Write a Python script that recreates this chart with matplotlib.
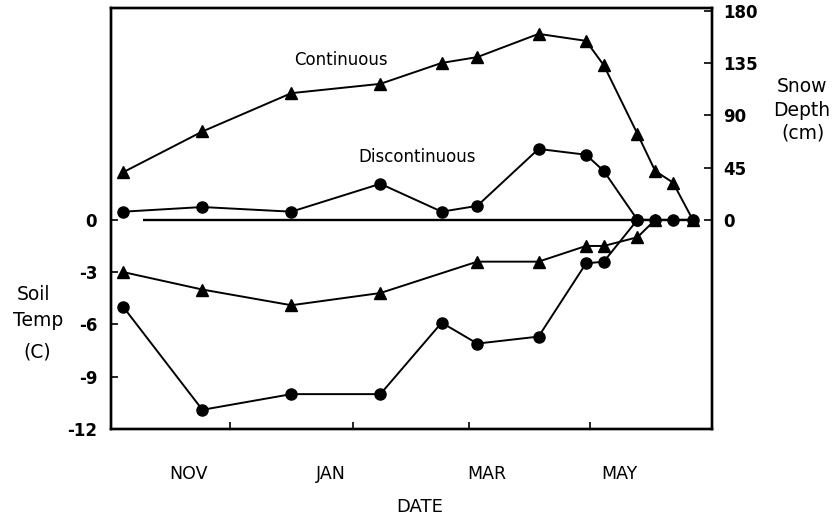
# Soil temperature and snow depth through the winter, continuous vs discontinuous snow
import matplotlib
matplotlib.use('Agg')
import matplotlib.pyplot as plt

plt.rcParams['font.family'] = ['DejaVu Sans']

# x values are days since 1 Oct
snow_days = [7, 47, 92, 137, 168, 186, 217, 241, 250, 267, 276, 285, 295]
snow_continuous = [41, 76, 109, 117, 135, 140, 160, 154, 133, 74, 42, 32, 0]
snow_discontinuous = [7, 11, 7, 31, 7, 12, 61, 56, 42, 0, 0, 0, 0]

temp_days_cont = [7, 47, 92, 137, 186, 217, 241, 250, 267, 276]
temp_continuous = [-3.0, -4.0, -4.9, -4.2, -2.4, -2.4, -1.5, -1.5, -1.0, 0]
temp_days_disc = [7, 47, 92, 137, 168, 186, 217, 241, 250, 267]
temp_discontinuous = [-5.0, -10.9, -10.0, -10.0, -5.9, -7.1, -6.7, -2.5, -2.4, 0]

month_ticks = [61, 123, 182, 243]          # 1 Dec, 1 Feb, 1 Apr, 1 Jun
month_label_pos = [40, 112, 191, 258]
month_labels = ['NOV', 'JAN', 'MAR', 'MAY']
temp_ticks = [0, -3, -6, -9, -12]
snow_ticks = [0, 45, 90, 135, 180]

fig = plt.figure(figsize=(8.38, 5.21), dpi=100)
ax = fig.add_axes([0.1325, 0.1766, 0.7171, 0.808])
ax2 = ax.twinx()

line_kw = dict(color='black', linewidth=1.4)

# snow depth (right axis)
ax2.plot(snow_days, snow_continuous, marker='^', markersize=9, **line_kw)
ax2.plot(snow_days, snow_discontinuous, marker='o', markersize=8, **line_kw)

# soil temperature (left axis)
ax.hlines(0, 17, 295, color='black', linewidth=1.7)
ax.plot(temp_days_cont, temp_continuous, marker='^', markersize=9, **line_kw)
ax.plot(temp_days_disc, temp_discontinuous, marker='o', markersize=8, **line_kw)

ax.set_xlim(0.8, 304.7)
ax.set_ylim(-12, 12.15)
ax2.set_ylim(-180, 182.25)

ax.set_yticks(temp_ticks)
ax.set_yticklabels([str(t) for t in temp_ticks], fontweight='bold', fontsize=12)
ax2.set_yticks(snow_ticks)
ax2.set_yticklabels([str(t) for t in snow_ticks], fontweight='bold', fontsize=12)

ax.set_xticks(month_label_pos)
ax.set_xticklabels(month_labels, fontsize=12.5)
ax.set_xticks(month_ticks, minor=True)
ax.tick_params(axis='x', which='major', length=0, pad=26)
ax.tick_params(axis='x', which='minor', direction='in', length=5, width=1.2)
ax.tick_params(axis='y', direction='in', length=5, width=1.2, pad=10)
ax2.tick_params(axis='y', direction='in', length=6, width=1.2, pad=8)

for a in (ax, ax2):
    for s in a.spines.values():
        s.set_linewidth(1.7)

fig.text(341 / 838, 1 - 60 / 521, 'Continuous', fontsize=12, ha='center', va='center')
fig.text(417 / 838, 1 - 157 / 521, 'Discontinuous', fontsize=12, ha='center', va='center')

fig.text(33 / 838, 1 - 295 / 521, 'Soil', fontsize=13.5, ha='center', va='center')
fig.text(38 / 838, 1 - 320 / 521, 'Temp', fontsize=13.5, ha='center', va='center')
fig.text(37 / 838, 1 - 352 / 521, '(C)', fontsize=13.5, ha='center', va='center')

fig.text(802 / 838, 1 - 87 / 521, 'Snow', fontsize=13.5, ha='center', va='center')
fig.text(802 / 838, 1 - 110 / 521, 'Depth', fontsize=13.5, ha='center', va='center')
fig.text(803 / 838, 1 - 133 / 521, '(cm)', fontsize=13.5, ha='center', va='center')

fig.text(420 / 838, 1 - 507 / 521, 'DATE', fontsize=13, ha='center', va='center')

fig.savefig('out.png', dpi=100)
